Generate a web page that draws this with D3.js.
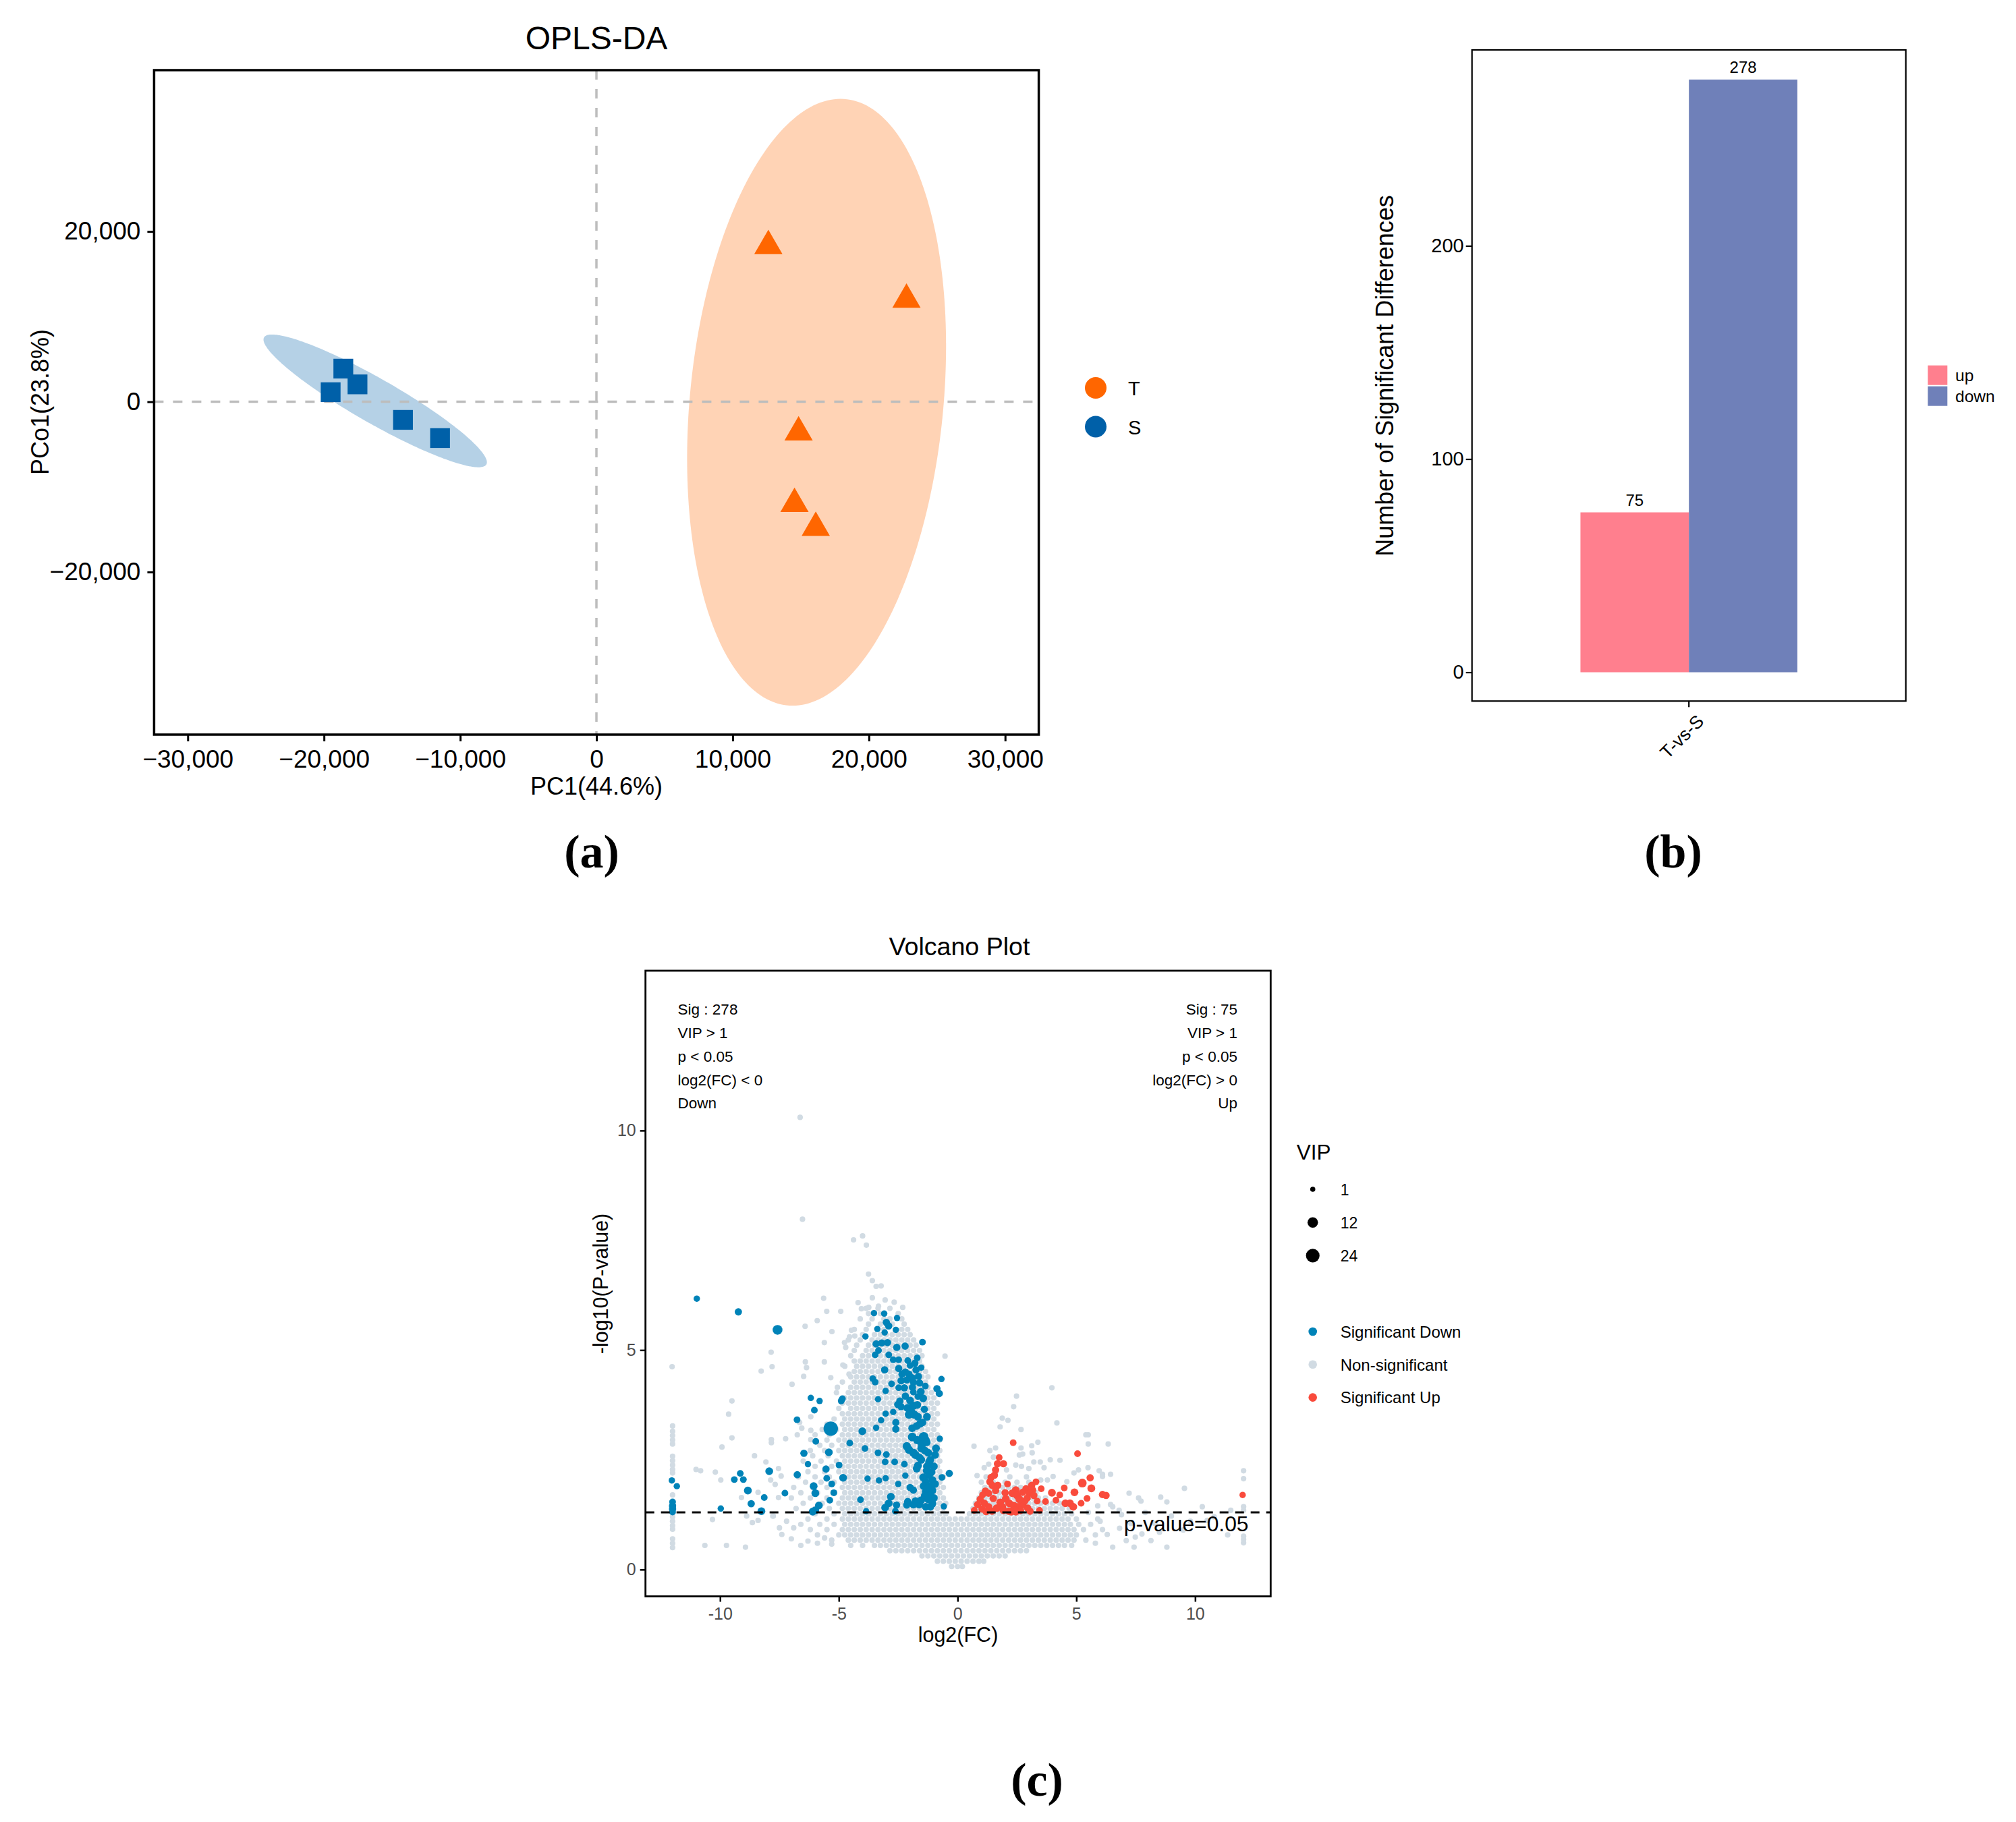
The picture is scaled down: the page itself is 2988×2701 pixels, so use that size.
<!DOCTYPE html>
<html>
<head>
<meta charset="utf-8">
<title>OPLS-DA, differences and volcano plot</title>
<script src="https://cdn.jsdelivr.net/npm/d3@7/dist/d3.min.js"></script>
<style>
  body { margin: 0; background: #fff; }
</style>
</head>
<body>
<svg id="fig" width="2988" height="2701"></svg>
<script>
// ---------- (a) OPLS-DA scores ----------
var groups = ["T", "S"];
var sampleGroup = ["T", "T", "T", "T", "T", "S", "S", "S", "S", "S"];
var scorePC1 = [12620, 22760, 14840, 14540, 16100, -18580, -17540, -19510, -14200, -11480];
var scorePCo1 = [18300, 12000, -3600, -12000, -14800, 3890, 2040, 1120, -2130, -4270];
// confidence ellipses: centre + two conjugate semi-diameters (data units), per group
var ellipseCentre = [[16160, -60], [-16240, 100]];
var ellipseAxisA = [[1760, 35640], [8160, -7460]];
var ellipseAxisB = [[9340, 0], [800, 2270]];
var pcXTicks = [-30000, -20000, -10000, 0, 10000, 20000, 30000];
var pcYTicks = [-20000, 0, 20000];

// ---------- (b) number of significant differences ----------
var comparisons = ["T-vs-S"];
var directions = ["up", "down"];
var diffCounts = [75, 278];
var countTicks = [0, 100, 200];

// ---------- (c) volcano plot ----------
var fcTicks = [-10, -5, 0, 5, 10];
var pTicks = [0, 5, 10];
var pCut = 0.05;
var vipBreaks = [1, 12, 24];
var classes = ["Significant Down", "Non-significant", "Significant Up"];
// significant down: [log2FC, -log10 p, VIP]
var downPts = [
  [-10.98,6.17,2.5],[-9.23,5.87,4],[-7.58,5.46,10],[-5.34,3.21,28],
  [-3.52,5.84,2.5],[-3.09,5.83,2.5],[-2.55,5.73,2.5],[-3.0,5.63,4],[-2.9,5.55,4],
  [-3.38,5.48,2.5],[-3.07,5.40,2.5],[-2.6,5.46,2.5],[-3.88,5.31,2.5],[-1.48,5.18,3],
  [-3.43,5.14,4],[-3.19,5.16,4],[-2.95,5.17,4],[-2.56,5.06,4],[-2.21,5.09,4],
  [-3.47,4.89,3],[-3.33,4.99,3],[-2.9,4.89,3],[-2.71,4.78,3],[-2.48,4.78,3],
  [-1.7,4.82,3],[-2.1,4.76,3],[-2.0,4.65,3],[-1.53,4.6,2.5],[-3.07,4.55,4],
  [-2.48,4.58,4],[-2.34,4.45,4],[-2.2,4.5,4],[-2.05,4.45,4],[-1.91,4.37,4],
  [-2.38,4.3,4],[-2.14,4.32,4],[-1.86,4.27,4],[-3.57,4.35,3],[-3.47,4.27,3],
  [-0.68,4.34,2.5],[-2.78,4.23,3],[-2.48,4.14,3],[-2.24,4.14,4],[-1.86,4.04,3],
  [-1.67,3.94,3],[-1.36,4.18,3],[-3.03,4.07,2.5],[-0.87,4.12,4],[-0.77,4.01,4],
  [-2.43,3.84,4],[-2.52,3.76,4],[-2.38,3.71,4],[-3.35,3.88,2.5],
  [-2.1,3.68,6],[-1.96,3.6,6],[-1.82,3.53,6],[-2.05,3.53,6],[-1.86,3.73,6],
  [-3.03,3.55,2.5],[-2.71,3.59,2.5],[-1.67,3.48,5],[-1.48,3.35,5],[-1.29,3.48,5],
  [-3.22,3.4,2.5],[-2.6,3.35,4],[-2.6,3.2,4],[-3.43,3.23,2.5],
  [-1.91,3.22,5],[-1.72,3.27,5],[-1.58,3.32,5],[-1.43,3.02,10],[-1.38,2.94,10],[-1.91,3.02,7],
  [-0.75,2.98,2.5],[-2.14,2.81,6],[-2.05,2.73,6],[-1.86,2.66,6],[-1.77,2.61,6],
  [-1.53,2.76,5],[-1.38,2.71,5],[-1.24,2.66,5],[-0.91,2.76,5],[-0.95,2.61,5],
  [-3.35,2.66,3],[-3.0,2.62,3],[-3.05,2.45,3],[-2.65,2.45,3],[-2.24,2.4,3],
  [-1.53,2.5,5],[-1.67,2.37,5],[-1.72,2.3,5],[-1.29,2.35,5],[-1.1,2.22,5],[-1.2,2.15,5],[-1.06,2.04,5],
  [-0.35,2.19,4],[-0.66,2.1,3],[-2.2,2.14,2.5],[-3.03,2.08,2.5],[-3.31,2.03,2.5],
  [-3.79,2.07,2.5],[-2.5,1.95,2.5],
  [-1.34,2.0,5],[-1.43,1.9,5],[-1.2,1.9,5],[-1.06,1.8,5],[-1.34,1.77,5],[-1.15,1.7,5],
  [-1.38,1.68,5],[-1.0,1.63,5],[-1.24,1.6,5],[-1.06,1.5,5],[-1.53,1.58,5],[-1.77,1.56,5],
  [-1.62,1.48,5],[-1.86,1.48,5],[-1.34,1.43,5],[-1.15,1.43,5],
  [-2.0,1.87,4],[-1.86,1.81,4],[-2.1,1.55,4],[-2.14,1.47,4],[-2.57,1.47,4],
  [-2.81,1.66,5],[-2.9,1.51,5],[-3.05,1.41,5],[-0.58,1.44,2.5],[-4.09,1.59,3],
  [-3.85,1.33,2.5],[-2.62,1.33,3],
  [-1.8,4.7,4],[-1.75,4.55,4],[-1.65,4.4,4],[-1.6,4.25,4],[-1.9,4.15,4],[-1.55,4.05,5],
  [-1.45,3.9,5],[-2.0,3.85,5],[-1.7,3.75,5],[-1.4,3.65,4],[-2.2,3.95,4],
  [-1.2,2.45,5],[-1.0,2.35,5],[-1.3,2.25,5],[-1.45,2.1,5],[-0.95,1.95,5],[-1.25,1.85,5],
  [-1.7,2.95,6],[-1.5,2.85,6],[-1.3,2.9,5],[-1.15,2.5,5],[-1.6,2.55,5],
  [-12.03,2.03,2.5],[-11.82,1.9,2.5],[-12,1.54,3],[-12,1.45,4],[-12,1.38,4],[-12,1.31,3],
  [-9.97,1.39,2.5],[-9.4,2.05,3],[-9.15,2.19,3],[-9.02,2.05,3],[-8.83,1.8,5],
  [-8.69,1.5,4],[-8.26,1.33,5],[-8.14,1.64,3],[-7.93,2.24,5],[-7.27,1.74,3],
  [-6.76,3.41,3],[-6.18,3.91,2.5],[-5.81,3.84,2.5],[-6.03,3.63,3],[-4.9,3.84,3],[-4.85,3.89,3],
  [-5.97,2.92,3],[-6.47,2.65,4],[-5.42,2.67,5],[-4.54,2.88,3],[-4.01,3.15,5],[-3.9,2.76,3],
  [-6.3,2.4,2.5],[-6.75,2.16,4],[-5.54,2.29,4],[-4.99,2.38,3],[-4.82,2.09,5],
  [-5.51,2.08,3],[-5.3,1.95,3],[-6.06,1.9,5],[-5.99,1.74,5],[-5.21,1.75,3],
  [-5.38,1.58,3],[-5.84,1.46,5],[-5.99,1.35,5],[-6.1,1.32,5]
];
// significant up: [log2FC, -log10 p, VIP]
var upPts = [
  [2.34,2.89,3],[5.05,2.64,3],[1.68,2.41,4],[1.93,2.41,4],
  [1.6,2.27,4],[1.55,2.15,4],[1.41,2.1,4],[1.36,2.0,4],[1.46,1.92,4],[1.69,1.92,4],
  [1.17,1.79,4],[1.3,1.74,4],[5.58,2.09,4],[5.25,1.97,7],[5.63,1.85,5],[4.92,1.76,5],
  [4.49,1.86,3],[3.97,1.75,5],[3.52,1.84,3],
  [3.12,1.92,4],[3.16,1.81,4],[2.88,1.84,4],[2.74,1.76,4],[3.02,1.74,4],[3.21,1.69,4],
  [2.45,1.81,5],[2.31,1.74,5],[2.5,1.69,5],[6.1,1.71,4],[6.25,1.69,4],[4.14,1.58,3],
  [4.54,1.51,5],[4.73,1.51,5],[4.87,1.43,5],[5.2,1.51,3],
  [0.84,1.48,4],[1.13,1.51,4],[1.31,1.43,4],[1.03,1.38,4],
  [1.79,1.53,5],[2.03,1.61,5],[2.17,1.51,5],[1.88,1.43,5],[1.65,1.4,5],
  [2.36,1.46,5],[2.55,1.43,5],[2.74,1.48,5],[2.64,1.35,5],[2.41,1.35,5],[2.17,1.33,5],
  [1.93,1.35,5],[2.26,1.32,5],[2.45,1.32,5],[2.93,1.63,4],[2.83,1.56,4],[3.35,1.56,3],
  [3.45,1.35,3],[12.0,1.7,2.5],
  [0.95,1.6,4],[1.5,1.62,4],[1.45,1.33,4],[0.7,1.35,3],[1.2,1.32,4],[2.0,1.75,4],
  [2.6,1.6,5],[2.95,1.4,4],[3.05,1.33,4],[2.1,1.95,3],[1.6,1.8,4],[3.3,2.0,3],
  [1.75,2.55,3],[3.7,1.55,3],[4.3,1.7,3],[5.45,1.62,3],[1.05,1.7,3]
];
// non-significant cloud, read row by row: [-log10 p, log2FC, log2FC, ...]
var nsRows = [
  [0.07,-0.25,0,0.2],
  [0.19,-0.85,-0.6,-0.35,-0.1,0.15,0.4,0.65,0.9,1.1],
  [0.31,-1.5,-1.25,-1.0,-0.75,-0.5,-0.25,0,0.25,0.5,0.75,1.0,1.25,1.5,1.75,2.0],
  [0.43,-2.85,-2.6,-2.35,-2.1,-1.85,-1.6,-1.35,-1.1,-0.85,-0.6,-0.35,-0.1,0.15,0.4,0.65,0.9,1.15,1.4,1.65,1.9,2.15,2.4,2.65,2.9],
  [0.55,-4.5,-4.0,-3.5,-3.25,-3.0,-2.75,-2.5,-2.25,-2.0,-1.75,-1.5,-1.25,-1.0,-0.75,-0.5,-0.25,0,0.25,0.5,0.75,1.0,1.25,1.5,1.75,2.0,2.25,2.5,2.75,3.0,3.25,3.5,3.75,4.0,4.25,4.5,4.8],
  [0.67,-5.3,-4.6,-4.35,-4.1,-3.85,-3.6,-3.35,-3.1,-2.85,-2.6,-2.35,-2.1,-1.85,-1.6,-1.35,-1.1,-0.85,-0.6,-0.35,-0.1,0.15,0.4,0.65,0.9,1.15,1.4,1.65,1.9,2.15,2.4,2.65,2.9,3.15,3.4,3.65,3.9,4.15,4.4,4.65,4.9,5.4],
  [0.79,-5.9,-5.0,-4.75,-4.5,-4.25,-4.0,-3.75,-3.5,-3.25,-3.0,-2.75,-2.5,-2.25,-2.0,-1.75,-1.5,-1.25,-1.0,-0.75,-0.5,-0.25,0,0.25,0.5,0.75,1.0,1.25,1.5,1.75,2.0,2.25,2.5,2.75,3.0,3.25,3.5,3.75,4.0,4.25,4.5,4.75,5.0,5.8],
  [0.91,-6.2,-5.5,-4.85,-4.6,-4.35,-4.1,-3.85,-3.6,-3.35,-3.1,-2.85,-2.6,-2.35,-2.1,-1.85,-1.6,-1.35,-1.1,-0.85,-0.6,-0.35,-0.1,0.15,0.4,0.65,0.9,1.15,1.4,1.65,1.9,2.15,2.4,2.65,2.9,3.15,3.4,3.65,3.9,4.15,4.4,4.65,4.9,5.3,6.1],
  [1.03,-6.6,-5.8,-5.2,-4.75,-4.5,-4.25,-4.0,-3.75,-3.5,-3.25,-3.0,-2.75,-2.5,-2.25,-2.0,-1.75,-1.5,-1.25,-1.0,-0.75,-0.5,-0.25,0,0.25,0.5,0.75,1.0,1.25,1.5,1.75,2.0,2.25,2.5,2.75,3.0,3.25,3.5,3.75,4.0,4.25,4.5,4.75,5.1,5.6],
  [1.15,-6.3,-5.5,-4.85,-4.6,-4.35,-4.1,-3.85,-3.6,-3.35,-3.1,-2.85,-2.6,-2.35,-2.1,-1.85,-1.6,-1.35,-1.1,-0.85,-0.6,-0.35,-0.1,0.15,0.4,0.65,0.9,1.15,1.4,1.65,1.9,2.15,2.4,2.65,2.9,3.15,3.4,3.65,3.9,4.15,4.4,4.65,5.0,5.9],
  [1.27,-6.0,-5.2,-4.75,-4.5,-4.25,-4.0,-3.75,-3.5,-3.25,-3.0,-2.75,-2.5,-2.25,-2.0,-1.75,-1.5,-1.25,-1.0,-0.75,-0.5,0.5,0.75,1.0,1.25,1.5,1.75,2.0,2.25,2.5,2.75,3.0,3.25,3.5,3.75,4.0,4.25,4.5,4.8],
  [1.39,-6.8,-6.0,-5.4,-4.85,-4.6,-4.35,-4.1,-3.85,-3.6,-3.35,-3.1,-2.85,-2.6,-2.35,-2.1,-1.85,-1.6,-1.35,-1.1,-0.85,-0.6,0.65,0.9,1.15,1.4,1.65,1.9,2.15,2.4,2.65,2.9,3.15,3.4,3.65,3.9,4.15,4.4,4.7],
  [1.51,-6.5,-5.7,-5.0,-4.75,-4.5,-4.25,-4.0,-3.75,-3.5,-3.25,-3.0,-2.75,-2.5,-2.25,-2.0,-1.75,-1.5,-1.25,-1.0,-0.75,-0.5,0.75,1.0,1.25,1.5,1.75,2.0,2.25,2.5,2.75,3.0,3.25,3.5,3.75,4.0,4.3],
  [1.63,-7.0,-6.2,-5.5,-4.85,-4.6,-4.35,-4.1,-3.85,-3.6,-3.35,-3.1,-2.85,-2.6,-2.35,-2.1,-1.85,-1.6,-1.35,-1.1,-0.85,-0.6,0.9,1.15,1.4,1.65,1.9,2.15,2.4,2.65,2.9,3.15,3.4,3.7],
  [1.75,-6.6,-5.9,-5.25,-4.75,-4.5,-4.25,-4.0,-3.75,-3.5,-3.25,-3.0,-2.75,-2.5,-2.25,-2.0,-1.75,-1.5,-1.25,-1.0,-0.75,1.0,1.25,1.5,1.75,2.0,2.25,2.5,2.75,3.0,3.3],
  [1.87,-6.9,-6.1,-5.5,-4.85,-4.6,-4.35,-4.1,-3.85,-3.6,-3.35,-3.1,-2.85,-2.6,-2.35,-2.1,-1.85,-1.6,-1.35,-1.1,-0.85,-0.6,1.15,1.4,1.65,1.9,2.15,2.4,2.65,2.9],
  [1.99,-6.4,-5.75,-5.2,-4.75,-4.5,-4.25,-4.0,-3.75,-3.5,-3.25,-3.0,-2.75,-2.5,-2.25,-2.0,-1.75,-1.5,-1.25,-1.0,-0.75,1.0,1.5,2.0,2.5,3.0],
  [2.11,-6.7,-6.0,-5.4,-4.85,-4.6,-4.35,-4.1,-3.85,-3.6,-3.35,-3.1,-2.85,-2.6,-2.35,-2.1,-1.85,-1.6,-1.35,-1.1,-0.85,-0.6,1.2,2.2,2.9],
  [2.23,-6.3,-5.6,-5.0,-4.75,-4.5,-4.25,-4.0,-3.75,-3.5,-3.25,-3.0,-2.75,-2.5,-2.25,-2.0,-1.75,-1.5,-1.25,-1.0,-0.75,1.6],
  [2.35,-6.0,-5.3,-4.85,-4.6,-4.35,-4.1,-3.85,-3.6,-3.35,-3.1,-2.85,-2.6,-2.35,-2.1,-1.85,-1.6,-1.35,-1.1,-0.85],
  [2.47,-6.5,-5.75,-5.1,-4.75,-4.5,-4.25,-4.0,-3.75,-3.5,-3.25,-3.0,-2.75,-2.5,-2.25,-2.0,-1.75,-1.5,-1.25,-1.0,-0.75],
  [2.59,-6.1,-5.45,-4.85,-4.6,-4.35,-4.1,-3.85,-3.6,-3.35,-3.1,-2.85,-2.6,-2.35,-2.1,-1.85,-1.6,-1.35,-1.1,-0.85],
  [2.71,-6.2,-5.6,-5.0,-4.75,-4.5,-4.25,-4.0,-3.75,-3.5,-3.25,-3.0,-2.75,-2.5,-2.25,-2.0,-1.75,-1.5,-1.25,-1.0,-0.75],
  [2.83,-5.8,-5.3,-4.85,-4.6,-4.35,-4.1,-3.85,-3.6,-3.35,-3.1,-2.85,-2.6,-2.35,-2.1,-1.85,-1.6,-1.35,-1.1,-0.85],
  [2.95,-5.5,-5.0,-4.75,-4.5,-4.25,-4.0,-3.75,-3.5,-3.25,-3.0,-2.75,-2.5,-2.25,-2.0,-1.75,-1.5,-1.25,-1.0,-0.75],
  [3.07,-6.0,-5.4,-4.85,-4.6,-4.35,-4.1,-3.85,-3.6,-3.35,-3.1,-2.85,-2.6,-2.35,-2.1,-1.85,-1.6,-1.35,-1.1,-0.85],
  [3.19,-5.7,-5.1,-4.75,-4.5,-4.25,-4.0,-3.75,-3.5,-3.25,-3.0,-2.75,-2.5,-2.25,-2.0,-1.75,-1.5,-1.25,-1.0],
  [3.31,-5.5,-4.85,-4.6,-4.35,-4.1,-3.85,-3.6,-3.35,-3.1,-2.85,-2.6,-2.35,-2.1,-1.85,-1.6,-1.35,-1.1,-0.85],
  [3.43,-5.2,-4.75,-4.5,-4.25,-4.0,-3.75,-3.5,-3.25,-3.0,-2.75,-2.5,-2.25,-2.0,-1.75,-1.5,-1.25,-1.0],
  [3.55,-4.85,-4.6,-4.35,-4.1,-3.85,-3.6,-3.35,-3.1,-2.85,-2.6,-2.35,-2.1,-1.85,-1.6,-1.35,-1.1,-0.85],
  [3.67,-5.0,-4.5,-4.25,-4.0,-3.75,-3.5,-3.25,-3.0,-2.75,-2.5,-2.25,-2.0,-1.75,-1.5,-1.25,-1.0],
  [3.79,-4.85,-4.6,-4.35,-4.1,-3.85,-3.6,-3.35,-3.1,-2.85,-2.6,-2.35,-2.1,-1.85,-1.6,-1.35,-1.1,-0.85],
  [3.91,-4.75,-4.5,-4.25,-4.0,-3.75,-3.5,-3.25,-3.0,-2.75,-2.5,-2.25,-2.0,-1.75,-1.5,-1.25,-1.0],
  [4.03,-5.1,-4.6,-4.35,-4.1,-3.85,-3.6,-3.35,-3.1,-2.85,-2.6,-2.35,-2.1,-1.85,-1.6,-1.35,-1.1],
  [4.15,-4.5,-4.25,-4.0,-3.75,-3.5,-3.25,-3.0,-2.75,-2.5,-2.25,-2.0,-1.75,-1.5,-1.25],
  [4.27,-4.85,-4.35,-4.1,-3.85,-3.6,-3.35,-3.1,-2.85,-2.6,-2.35,-2.1,-1.85,-1.6,-1.35],
  [4.39,-4.5,-4.25,-4.0,-3.75,-3.5,-3.25,-3.0,-2.75,-2.5,-2.25,-2.0,-1.75,-1.5,-1.25],
  [4.51,-4.35,-4.1,-3.85,-3.6,-3.35,-3.1,-2.85,-2.6,-2.35,-2.1,-1.85,-1.6,-1.35],
  [4.63,-4.75,-4.25,-4.0,-3.75,-3.5,-3.25,-3.0,-2.75,-2.5,-2.25,-2.0,-1.75,-1.5],
  [4.75,-4.35,-4.1,-3.85,-3.6,-3.35,-3.1,-2.85,-2.6,-2.35,-2.1,-1.85,-1.6],
  [4.87,-4.5,-4.0,-3.75,-3.5,-3.25,-3.0,-2.75,-2.5,-2.25,-2.0,-1.75,-1.5],
  [4.99,-4.35,-3.85,-3.6,-3.35,-3.1,-2.85,-2.6,-2.35,-2.1,-1.85,-1.6],
  [5.11,-4.25,-3.75,-3.5,-3.25,-3.0,-2.75,-2.5,-2.25,-2.0,-1.75],
  [5.23,-4.6,-4.1,-3.6,-3.35,-3.1,-2.85,-2.6,-2.35,-2.1,-1.85],
  [5.35,-4.0,-3.5,-3.25,-3.0,-2.75,-2.5,-2.25,-2.0],
  [5.47,-4.35,-3.85,-3.35,-3.1,-2.6,-2.35,-2.1],
  [5.59,-3.75,-3.25,-3.0,-2.75,-2.25],
  [5.71,-4.1,-3.6,-3.1,-2.85,-2.35],
  [5.83,-3.75,-3.25,-2.5],
  [5.95,-3.85,-3.35,-2.85]
];
// scattered non-significant points: [log2FC, -log10 p]
var nsScatter = [
  [-6.63,10.3],[-6.53,7.98],[-4.38,7.51],[-4.0,7.6],[-3.84,7.39],[-3.75,6.73],[-3.59,6.58],
  [-3.43,6.45],[-3.22,6.46],[-5.64,6.18],[-3.59,6.19],[-3.05,6.14],[-4.19,6.08],[-4.05,5.94],
  [-3.74,5.97],[-3.33,6.0],[-2.67,6.09],[-2.31,5.97],[-5.51,5.88],[-4.92,5.88],[-5.91,5.67],
  [-6.42,5.54],[-5.29,5.42],[-12.02,4.62],[-7.85,4.95],[-7.81,4.62],[-8.27,4.52],[-0.53,4.86],
  [-9.5,3.84],[-9.64,3.54],[-9.5,3.0],[-9.92,2.79],[-11.01,2.28],[-10.82,2.25],[-10.2,2.22],
  [-9.97,2.04],[-8.55,2.59],[-8.07,2.45],[-8.4,1.76],[-9.1,1.64],[-6.97,4.22],[-6.41,4.73],
  [-6.36,4.6],[-5.61,4.73],[-6.48,4.4],[-5.61,5.17],[-5.34,4.37],[-5.06,4.15],[-4.83,4.66],
  [-4.57,4.45],[-4.47,5.45],[-4.55,5.3],[-4.33,5.32],[-4.76,5.17],[-4.71,5.06],[-6.18,3.48],
  [-6.18,3.17],[-6.18,2.96],[-6.65,3.35],[-6.56,3.22],[-6.75,3.07],[-7.84,2.96],[-7.84,2.89],
  [-7.24,2.98],[-7.54,2.3],[-7.87,2.04],[-7.68,1.94],[-7.43,2.13],[-7.54,1.64],[-7.78,1.22],
  [-10.64,0.55],[-9.73,0.55],[-8.93,0.51],[-10.32,1.14],[-8.64,1.07],[-8.4,1.12],[-8.88,1.22],
  [-7.76,1.22],[-7.2,1.1],[-6.9,0.95],[-7.0,0.7],[-6.6,0.55],[-7.5,0.95],[-7.4,0.8],[-6.3,0.65],
  [-5.9,0.6],[-5.6,0.72],[-5.3,0.58],
  [-12,3.27],[-12,3.15],[-12,3.05],[-12,2.95],[-12,2.86],[-12,2.58],[-12,2.48],[-12,2.38],
  [-12,2.28],[-12,2.2],[-12,1.7],[-12,1.2],[-12,1.1],[-12,1.0],[-12,0.92],[-12,0.7],[-12,0.6],[-12,0.5],
  [7.22,1.74],[7.62,1.63],[7.72,1.56],[8.55,1.65],[8.81,1.54],[9.55,1.85],[10.3,1.43],
  [12.04,2.25],[12.04,2.07],[12.04,1.43],[12.04,1.35],[12.04,0.76],[12.04,0.69],[12.04,0.61],
  [6.44,2.17],[6.34,2.86],[5.5,3.07],[5.4,3.07],[5.5,2.86],[4.18,3.34],[4.31,2.49],[5.09,2.27],
  [5.49,2.32],[5.96,2.25],[6.1,2.17],[6.1,2.12],[6.44,1.48],[6.53,1.43],[11.37,0.79],[10.51,1.12],
  [8.14,0.66],[8.81,0.51],[7.43,0.51],[6.53,0.51],[7.1,0.66],[7.48,0.74],[7.76,0.81],[6.82,0.94],
  [9.0,1.22],[3.97,4.14],[2.48,3.95],[1.88,3.45],[2.12,3.4],[1.79,3.25],[2.36,3.71],[2.67,3.19],
  [0.69,2.81],[1.36,2.71],[1.6,2.77],[3.12,2.82],[3.38,2.9],[3.14,2.66],[2.67,2.77],[2.6,2.61],
  [2.74,2.63],[0.82,2.14],[1.12,2.32],[1.31,2.4],[1.51,2.56],[2.06,2.27],[2.45,2.38],[2.69,2.35],
  [3.0,2.3],[3.21,2.45],[3.48,2.45],[3.64,2.32],[4.02,2.12],[3.78,2.04],[3.5,2.04],[6.9,1.25],
  [7.9,1.3],[8.3,1.05],[9.5,0.9],[6.0,1.1],[6.3,0.8],[5.8,0.6],[5.5,1.3],[5.9,1.45],[6.8,1.35],
  [7.3,1.05],[8.5,0.85],[10.8,1.2],[11.5,1.35],[9.8,1.1],[4.6,2.0],[4.9,2.2],[3.9,2.5]
];
var nsVip = 1.4;

// ---------------- drawing ----------------
var FONT = "'Liberation Sans', Arial, Helvetica, sans-serif";
var SERIF = "'Liberation Serif', 'Times New Roman', serif";
var svg = d3.select("#fig");
svg.append("rect").attr("width", 2988).attr("height", 2701).attr("fill", "#fff");

function styleAxis(g, size, colour, width) {
  g.attr("font-family", FONT).attr("font-size", size);
  g.select(".domain").remove();
  g.selectAll(".tick line").attr("stroke", "#000").attr("stroke-width", width);
  g.selectAll(".tick text").attr("fill", colour);
}

function addText(parent, x, y, str, size, opts) {
  opts = opts || {};
  return parent.append("text")
    .attr("x", x).attr("y", y)
    .attr("font-family", opts.family || FONT)
    .attr("font-size", size)
    .attr("font-weight", opts.weight || "normal")
    .attr("text-anchor", opts.anchor || "start")
    .attr("fill", opts.fill || "#000")
    .text(str);
}

function ellipsePath(c, a, b, xs, ys) {
  var ts = d3.range(0, 2 * Math.PI, Math.PI / 120);
  return d3.line()
    .x(function(t) { return xs(c[0] + a[0] * Math.cos(t) + b[0] * Math.sin(t)); })
    .y(function(t) { return ys(c[1] + a[1] * Math.cos(t) + b[1] * Math.sin(t)); })(ts) + "Z";
}

// R-style labels: plain hyphen for negatives
function plainNum(d) { return d < 0 ? "-" + Math.abs(d) : String(d); }

/* ===== (a) OPLS-DA ===== */
var groupColour = { T: "#FF6600", S: "#0060A8" };
var xA = d3.scaleLinear().domain([-32470, 32470]).range([228.4, 1539.6]);
var yA = d3.scaleLinear().domain([-39100, 38950]).range([1089, 104]);
var gA = svg.append("g");

gA.selectAll("path.ellipse").data(groups).join("path")
  .attr("class", "ellipse")
  .attr("d", function(g, i) { return ellipsePath(ellipseCentre[i], ellipseAxisA[i], ellipseAxisB[i], xA, yA); })
  .attr("fill", function(g) { return groupColour[g]; })
  .attr("fill-opacity", 0.29);

// zero reference lines
gA.append("line").attr("x1", xA(0)).attr("x2", xA(0)).attr("y1", yA.range()[1]).attr("y2", yA.range()[0])
  .attr("stroke", "#BDBDBD").attr("stroke-width", 3.5).attr("stroke-dasharray", "14,14");
gA.append("line").attr("x1", xA.range()[0]).attr("x2", xA.range()[1]).attr("y1", yA(0)).attr("y2", yA(0))
  .attr("stroke", "#BDBDBD").attr("stroke-width", 3.5).attr("stroke-dasharray", "14,14");

var symTri = d3.symbol().type(d3.symbolTriangle).size(760);
var symSq = d3.symbol().type(d3.symbolSquare).size(860);
gA.selectAll("path.score").data(scorePC1).join("path")
  .attr("class", "score")
  .attr("transform", function(d, i) { return "translate(" + xA(d) + "," + yA(scorePCo1[i]) + ")"; })
  .attr("d", function(d, i) { return sampleGroup[i] === "T" ? symTri() : symSq(); })
  .attr("fill", function(d, i) { return groupColour[sampleGroup[i]]; });

gA.append("rect").attr("x", xA.range()[0]).attr("y", 104)
  .attr("width", xA.range()[1] - xA.range()[0]).attr("height", 985)
  .attr("fill", "none").attr("stroke", "#000").attr("stroke-width", 3.5);

gA.append("g").attr("transform", "translate(0,1089)")
  .call(d3.axisBottom(xA).tickValues(pcXTicks).tickFormat(d3.format(",")).tickSize(10).tickPadding(13))
  .call(styleAxis, 37, "#000", 3);
gA.append("g").attr("transform", "translate(" + xA.range()[0] + ",0)")
  .call(d3.axisLeft(yA).tickValues(pcYTicks).tickFormat(d3.format(",")).tickSize(10).tickPadding(10))
  .call(styleAxis, 37, "#000", 3);

addText(gA, 884, 73, "OPLS-DA", 48, { anchor: "middle" });
addText(gA, 884, 1178, "PC1(44.6%)", 36, { anchor: "middle" });
addText(gA, 0, 0, "PCo1(23.8%)", 36, { anchor: "middle" })
  .attr("transform", "translate(72,596) rotate(-90)");

// legend
var legA = gA.append("g");
groups.forEach(function(g, i) {
  legA.append("circle").attr("cx", 1624).attr("cy", 575 + i * 57.5).attr("r", 16).attr("fill", groupColour[g]);
  addText(legA, 1672, 586 + i * 57.5, g, 29);
});
addText(svg, 877, 1286, "(a)", 70, { anchor: "middle", family: SERIF, weight: "bold" });

/* ===== (b) number of significant differences ===== */
var dirColour = { up: "#FF7F8E", down: "#6F80B9" };
var xB = d3.scaleBand().domain(comparisons).range([2181.7, 2824.7]).paddingInner(0).paddingOuter(0.5);
var xSub = d3.scaleBand().domain(directions).range([0, xB.bandwidth()]);
var yB = d3.scaleLinear().domain([-13.9, 291.9]).range([1040.5, 74]);
var gB = svg.append("g");

var barData = [];
comparisons.forEach(function(c) {
  directions.forEach(function(dir, j) { barData.push({ comp: c, dir: dir, n: diffCounts[j] }); });
});
gB.selectAll("rect.bar").data(barData).join("rect")
  .attr("class", "bar")
  .attr("x", function(d) { return xB(d.comp) + xSub(d.dir); })
  .attr("width", xSub.bandwidth())
  .attr("y", function(d) { return yB(d.n); })
  .attr("height", function(d) { return yB(0) - yB(d.n); })
  .attr("fill", function(d) { return dirColour[d.dir]; });
gB.selectAll("text.val").data(barData).join("text")
  .attr("class", "val")
  .attr("x", function(d) { return xB(d.comp) + xSub(d.dir) + xSub.bandwidth() / 2; })
  .attr("y", function(d) { return yB(d.n) - 10; })
  .attr("text-anchor", "middle").attr("font-family", FONT).attr("font-size", 24)
  .text(function(d) { return d.n; });

gB.append("rect").attr("x", 2181.7).attr("y", 74).attr("width", 643).attr("height", 965.3)
  .attr("fill", "none").attr("stroke", "#000").attr("stroke-width", 2.2);

gB.append("g").attr("transform", "translate(2181.7,0)")
  .call(d3.axisLeft(yB).tickValues(countTicks).tickSize(9).tickPadding(3))
  .call(styleAxis, 29, "#000", 2.2);
var axB = gB.append("g").attr("transform", "translate(0,1039.3)")
  .call(d3.axisBottom(xB).tickSize(9).tickPadding(3))
  .call(styleAxis, 27, "#000", 2.2);
axB.selectAll(".tick text")
  .attr("text-anchor", "end")
  .attr("y", 0).attr("dy", "0.72em")
  .attr("transform", "translate(10,18) rotate(-45)");

addText(gB, 0, 0, "Number of Significant Differences", 36, { anchor: "middle" })
  .attr("transform", "translate(2065,557) rotate(-90)");

directions.forEach(function(dir, i) {
  gB.append("rect").attr("x", 2857.3).attr("y", 541.7 + i * 31).attr("width", 29).attr("height", 29)
    .attr("fill", dirColour[dir]);
  addText(gB, 2898, 565 + i * 31, dir, 24.5);
});
addText(svg, 2480, 1286, "(b)", 70, { anchor: "middle", family: SERIF, weight: "bold" });

/* ===== (c) volcano plot ===== */
var classColour = { "Significant Down": "#0083B8", "Non-significant": "#D1DBE3", "Significant Up": "#F94B3C" };
var xC = d3.scaleLinear().domain([-13.14, 13.18]).range([956.7, 1883.3]);
var yC = d3.scaleLinear().domain([-0.61, 13.64]).range([2366.5, 1439]);
var rC = d3.scaleSqrt().domain([0, 30]).range([2.2, 11]);
var gC = svg.append("g");

var nsPts = [];
nsRows.forEach(function(row) {
  row.slice(1).forEach(function(fc) { nsPts.push([fc, row[0], nsVip]); });
});
nsScatter.forEach(function(p) { nsPts.push([p[0], p[1], nsVip]); });

function drawPoints(data, cls) {
  gC.append("g").selectAll("circle").data(data).join("circle")
    .attr("cx", function(d) { return xC(d[0]); })
    .attr("cy", function(d) { return yC(d[1]); })
    .attr("r", function(d) { return rC(d[2]); })
    .attr("fill", classColour[cls]);
}
drawPoints(nsPts, "Non-significant");
drawPoints(downPts, "Significant Down");
drawPoints(upPts, "Significant Up");

var pLine = -Math.log10(pCut);
gC.append("line").attr("x1", xC.range()[0]).attr("x2", xC.range()[1])
  .attr("y1", yC(pLine)).attr("y2", yC(pLine))
  .attr("stroke", "#000").attr("stroke-width", 3).attr("stroke-dasharray", "13,10");
addText(gC, xC(12.25), yC(pLine) + 28, "p-value=" + pCut, 31.8, { anchor: "end" });

gC.append("rect").attr("x", 956.7).attr("y", 1439).attr("width", 926.6).attr("height", 927.5)
  .attr("fill", "none").attr("stroke", "#000").attr("stroke-width", 2.8);

gC.append("g").attr("transform", "translate(0,2366.5)")
  .call(d3.axisBottom(xC).tickValues(fcTicks).tickFormat(plainNum).tickSize(8).tickPadding(9))
  .call(styleAxis, 25, "#4D4D4D", 2.5);
gC.append("g").attr("transform", "translate(956.7,0)")
  .call(d3.axisLeft(yC).tickValues(pTicks).tickFormat(plainNum).tickSize(8).tickPadding(6))
  .call(styleAxis, 25, "#4D4D4D", 2.5);

var downNote = ["Sig : " + diffCounts[1], "VIP > 1", "p < " + pCut, "log2(FC) < 0", "Down"];
var upNote = ["Sig : " + diffCounts[0], "VIP > 1", "p < " + pCut, "log2(FC) > 0", "Up"];
downNote.forEach(function(s, i) { addText(gC, xC(-11.78), 1504.3 + i * 34.75, s, 22.5); });
upNote.forEach(function(s, i) { addText(gC, xC(11.78), 1504.3 + i * 34.75, s, 22.5, { anchor: "end" }); });

addText(gC, 1422, 1416, "Volcano Plot", 37.6, { anchor: "middle" });
addText(gC, 1420, 2434, "log2(FC)", 30.5, { anchor: "middle" });
addText(gC, 0, 0, "-log10(P-value)", 30.5, { anchor: "middle" })
  .attr("transform", "translate(901,1903) rotate(-90)");

// size legend
addText(gC, 1921.7, 1719, "VIP", 31.5);
vipBreaks.forEach(function(v, i) {
  var cy = 1763 + i * 49.2;
  gC.append("circle").attr("cx", 1945.7).attr("cy", cy).attr("r", rC(v)).attr("fill", "#000");
  addText(gC, 1986.7, cy + 8.5, v, 23);
});
// colour legend
classes.forEach(function(c, i) {
  var cy = 1974 + i * 48.8;
  gC.append("circle").attr("cx", 1945.7).attr("cy", cy).attr("r", 6.3).attr("fill", classColour[c]);
  addText(gC, 1986.7, cy + 8.7, c, 24);
});
addText(svg, 1537, 2662, "(c)", 70, { anchor: "middle", family: SERIF, weight: "bold" });
</script>
</body>
</html>
